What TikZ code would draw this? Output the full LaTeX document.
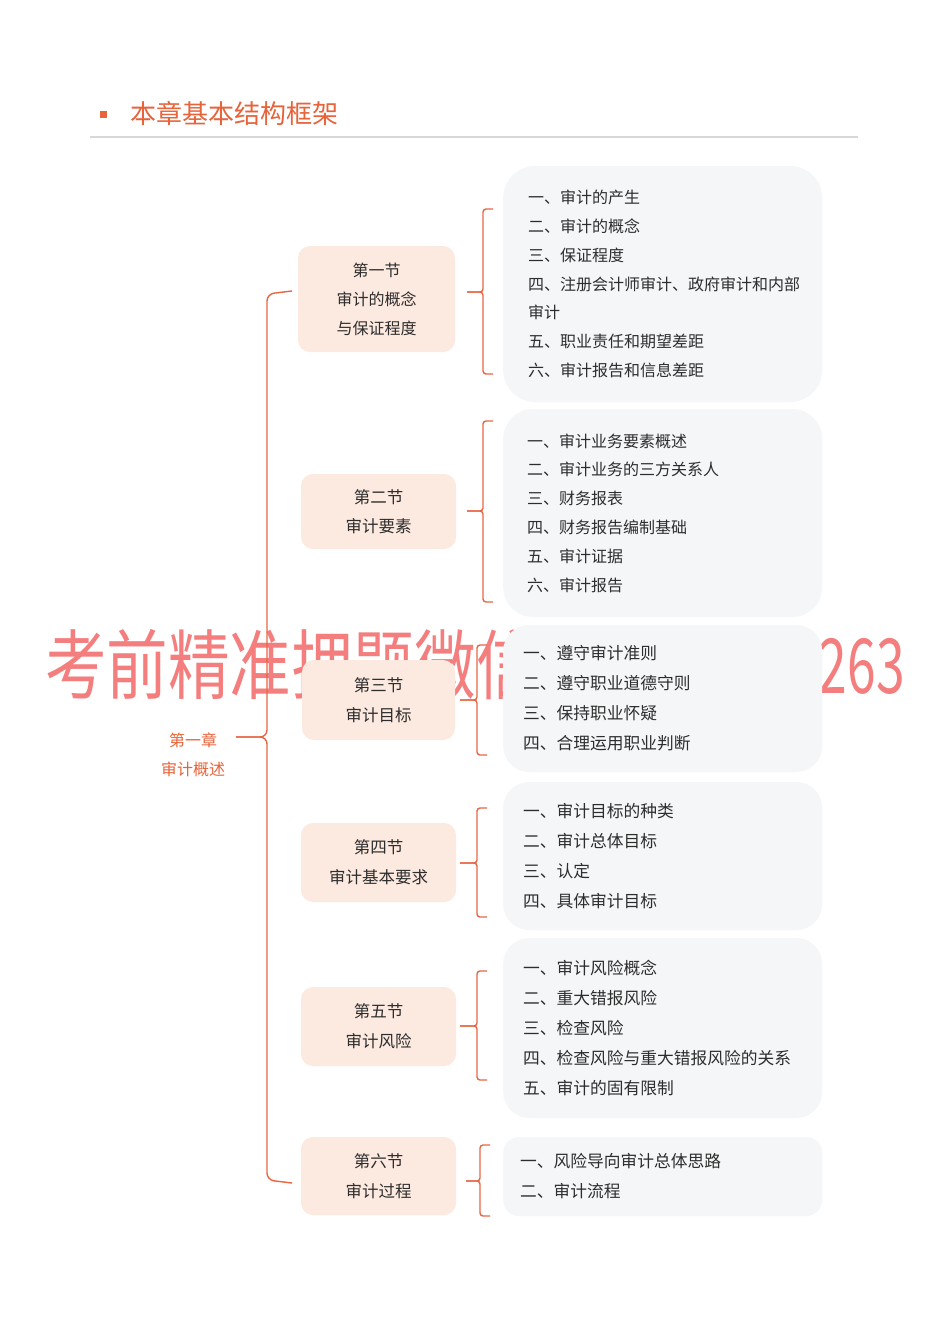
\documentclass[tikz,border=0pt]{standalone}
\usepackage{fontspec}
\setmainfont{Noto Sans CJK SC}
\newfontfamily\wmfont{Noto Sans CJK SC}
\definecolor{brc}{RGB}{232,102,68}
\definecolor{titc}{RGB}{232,98,58}
\definecolor{peach}{RGB}{252,233,223}
\definecolor{graybox}{RGB}{245,246,248}
\definecolor{txt}{RGB}{45,45,45}
\definecolor{rulec}{RGB}{216,216,216}
\definecolor{wmc}{RGB}{244,126,126}
\newcommand\mybrace[6]{%
  \coordinate (#1) at (#2,#5);
  \draw[br] (#3+10,#4) -- (#3,#4) -- (#3,#5) -- (#1);
  \draw[br] (#3+10,#6) -- (#3,#6) -- (#3,#5) -- (#1);
}
\begin{document}
\begin{tikzpicture}[x=1pt,y=-1pt,
  sec/.style={fill=peach, rounded corners=12pt, align=center, text=txt, inner sep=0pt},
  itm/.style={fill=graybox, align=left, text=txt, anchor=west, inner ysep=0pt},
  br/.style={draw=brc, line width=1.4pt, rounded corners=3pt},
  chbr/.style={draw=brc, line width=1.4pt, rounded corners=7pt},
  wm/.style={text=wmc, inner sep=0pt, font=\wmfont\fontsize{76}{80}\selectfont},
]
\useasboundingbox[fill=white] (0,0) rectangle (950,1344);
% watermark
\node[wm, anchor=west, xscale=0.81] (wm1) at (45,665) {考前精准押题微信};
\node[wm, anchor=east, xscale=0.68] (wm2) at (905,666) {263};
% header
\node[fill=titc, minimum size=7pt, inner sep=0pt] (sq) at (103,114) {};
\node[anchor=west, text=titc, font=\fontsize{26}{30}\selectfont, inner sep=0pt] (title) at (130,113) {本章基本结构框架};
\draw[draw=rulec, line width=2pt] (90,137) -- (858,137);
% chapter
\node[text=titc, align=center, inner sep=0pt, font=\fontsize{16}{29}\selectfont] (ch) at (193,754.5) {第一章\\审计概述};
\coordinate (chtip) at (236,737);
\draw[chbr] (292,291) -- (267,294) -- (267,737) -- (chtip);
\draw[chbr] (292,1183) -- (267,1180) -- (267,737) -- (chtip);
% sections
\node[sec, minimum width=157pt, minimum height=106pt, font=\fontsize{16}{29}\selectfont] (s1) at (376.5,299) {第一节\\审计的概念\\与保证程度};
\node[sec, minimum width=155pt, minimum height=75pt, font=\fontsize{16.5}{29.5}\selectfont] (s2) at (378.5,511.5) {第二节\\审计要素};
\node[sec, minimum width=153pt, minimum height=80pt, font=\fontsize{16.5}{30}\selectfont] (s3) at (378.5,700) {第三节\\审计目标};
\node[sec, minimum width=155pt, minimum height=79pt, font=\fontsize{16.5}{30}\selectfont] (s4) at (378.5,862.5) {第四节\\审计基本要求};
\node[sec, minimum width=155pt, minimum height=79pt, font=\fontsize{16.5}{30}\selectfont] (s5) at (378.5,1026.5) {第五节\\审计风险};
\node[sec, minimum width=155pt, minimum height=78pt, font=\fontsize{16.5}{30}\selectfont] (s6) at (378.5,1176) {第六节\\审计过程};
% item boxes
\node[itm, rounded corners=32pt, minimum height=236pt, inner xsep=25pt, text width=269pt, font=\fontsize{16}{28.8}\selectfont] (i1) at (503,284)
  {一、审计的产生\\二、审计的概念\\三、保证程度\\四、注册会计师审计、政府审计和内部\\审计\\五、职业责任和期望差距\\六、审计报告和信息差距};
\node[itm, rounded corners=30pt, minimum height=208pt, inner xsep=24pt, text width=271pt, font=\fontsize{16}{28.8}\selectfont] (i2) at (503,513)
  {一、审计业务要素概述\\二、审计业务的三方关系人\\三、财务报表\\四、财务报告编制基础\\五、审计证据\\六、审计报告};
\node[itm, rounded corners=26pt, minimum height=147pt, inner xsep=20pt, text width=279pt, font=\fontsize{16.75}{30}\selectfont] (i3) at (503,698.5)
  {一、遵守审计准则\\二、遵守职业道德守则\\三、保持职业怀疑\\四、合理运用职业判断};
\node[itm, rounded corners=26pt, minimum height=148pt, inner xsep=20pt, text width=279pt, font=\fontsize{16.75}{30}\selectfont] (i4) at (503,856)
  {一、审计目标的种类\\二、审计总体目标\\三、认定\\四、具体审计目标};
\node[itm, rounded corners=26pt, minimum height=180pt, inner xsep=20pt, text width=279pt, font=\fontsize{16.75}{30}\selectfont] (i5) at (503,1028)
  {一、审计风险概念\\二、重大错报风险\\三、检查风险\\四、检查风险与重大错报风险的关系\\五、审计的固有限制};
\node[itm, rounded corners=16pt, minimum height=79pt, inner xsep=17pt, text width=285pt, font=\fontsize{16.75}{30}\selectfont] (i6) at (503,1176.5)
  {一、风险导向审计总体思路\\二、审计流程};
% braces from sections to item boxes
\mybrace{b1}{467}{483}{209}{292}{374}
\mybrace{b2}{467}{483}{421}{511}{602}
\mybrace{b3}{460}{477}{645}{700}{755}
\mybrace{b4}{460}{477}{808}{863}{917}
\mybrace{b5}{460}{477}{971}{1026}{1080}
\mybrace{b6}{466}{480}{1145}{1181}{1216}
\end{tikzpicture}
\end{document}
